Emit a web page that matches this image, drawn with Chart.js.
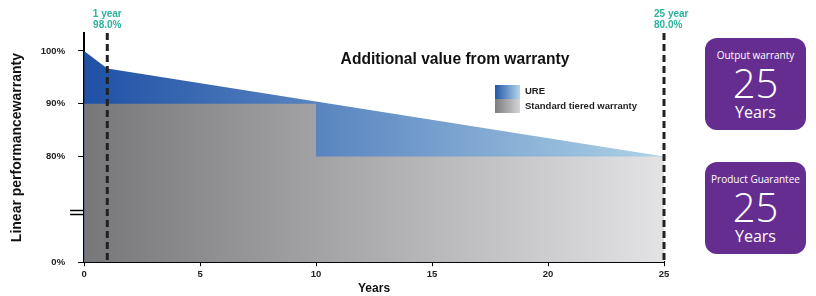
<!DOCTYPE html>
<html lang="en">
<head>
<meta charset="UTF-8">
<title>Warranty</title>
<script src="https://cdn.jsdelivr.net/npm/chart.js@4.4.1/dist/chart.umd.min.js"></script>
<style>
  body { margin:0; background:#fff; }
  #wrap { position:relative; width:816px; height:296px; }
  .box {
    position:absolute; left:705px; width:101px; height:92px;
    background:#662d91; border-radius:12px; color:#fff; text-align:center;
    font-family:"Open Sans", sans-serif;
  }
  .box .t { font-size:10px; margin-top:11px; line-height:12px; }
  .box .n { font-size:40px; line-height:40px; font-weight:300; margin-top:2px; }
  .box .y { font-size:16px; line-height:18px; }
</style>
</head>
<body>
<div id="wrap">
  <canvas id="grafico"></canvas>
  <div class="box" style="top:38px"><div class="t">Output warranty</div><div class="n">25</div><div class="y">Years</div></div>
  <div class="box" style="top:162px"><div class="t">Product Guarantee</div><div class="n">25</div><div class="y">Years</div></div>
</div>

<script>
  // valores (anos, % garantia)
  const ureYears = [0, 1, 25];
  const ureValues = [100, 96.7, 80];
  const stdYears = [0, 10, 10, 25];
  const stdValues = [90, 90, 80, 80];
  const yTicks = [60, 80, 90, 100];   // 60 = posição do "0%" (eixo quebrado)
  const yLabels = ["0%", "80%", "90%", "100%"];
  const marcos = [
    { ano: 1, linha1: "1 year", linha2: "98.0%", align: "center" },
    { ano: 25, linha1: "25 year", linha2: "80.0%", align: "left" }
  ];

  function gradiente(ctx, area, c1, c2) {
    const g = ctx.createLinearGradient(area.left, 0, area.right, 0);
    g.addColorStop(0, c1);
    g.addColorStop(1, c2);
    return g;
  }

  const extras = {
    id: "extras",
    afterDatasetsDraw(chart) {
      const { ctx, chartArea: a, scales: { x, y } } = chart;
      ctx.save();
      // linhas tracejadas + rótulos
      ctx.strokeStyle = "#222";
      ctx.lineWidth = 3;
      ctx.setLineDash([7, 4]);
      marcos.forEach(m => {
        const px = x.getPixelForValue(m.ano);
        ctx.beginPath();
        ctx.moveTo(px, a.top);
        ctx.lineTo(px, a.bottom - 1);
        ctx.stroke();
        ctx.fillStyle = "#2bb39c";
        ctx.font = "bold 10px 'Liberation Sans', Arial";
        ctx.textAlign = m.align;
        ctx.textBaseline = "middle";
        const tx = m.align === "left" ? px - 10 : px;
        ctx.fillText(m.linha1, tx, 14);
        ctx.fillText(m.linha2, tx, 25);
      });
      ctx.setLineDash([]);

      // título
      ctx.fillStyle = "#111";
      ctx.font = "bold 15.6px 'Liberation Sans', Arial";
      ctx.textAlign = "center";
      ctx.fillText("Additional value from warranty", 455, 60);

      // legenda
      ctx.fillStyle = gradiente(ctx, { left: 495, right: 520 }, "#2255a8", "#b3d6ea");
      ctx.fillRect(495, 85, 25, 14);
      ctx.fillStyle = gradiente(ctx, { left: 495, right: 520 }, "#7c7c7e", "#d5d5d7");
      ctx.fillRect(495, 99, 25, 14);
      ctx.fillStyle = "#222";
      ctx.font = "bold 9.5px 'Liberation Sans', Arial";
      ctx.textAlign = "left";
      ctx.fillText("URE", 525, 91);
      ctx.fillText("Standard tiered warranty", 525, 106);

      // marca de quebra do eixo
      ctx.strokeStyle = "#000";
      ctx.lineWidth = 1.3;
      ctx.beginPath();
      ctx.moveTo(a.left - 14, 210.5); ctx.lineTo(a.left, 210.5);
      ctx.moveTo(a.left - 14, 214.5); ctx.lineTo(a.left, 214.5);
      ctx.stroke();
      ctx.restore();
    }
  };

  const ctx = document.getElementById("grafico").getContext("2d");
  new Chart(ctx, {
    type: "line",
    data: {
      datasets: [
        {
          label: "Standard tiered warranty",
          data: stdYears.map((v, i) => ({ x: v, y: stdValues[i] })),
          fill: "start",
          borderWidth: 0,
          pointRadius: 0,
          backgroundColor: c => c.chart.chartArea ? gradiente(c.chart.ctx, c.chart.chartArea, "#77777a", "#e3e3e5") : "#999",
          order: 1
        },
        {
          label: "URE",
          data: ureYears.map((v, i) => ({ x: v, y: ureValues[i] })),
          fill: "start",
          borderWidth: 0,
          pointRadius: 0,
          backgroundColor: c => c.chart.chartArea ? gradiente(c.chart.ctx, c.chart.chartArea, "#1f50a5", "#aed2e7") : "#36c",
          order: 2
        }
      ]
    },
    options: {
      responsive: true,
      maintainAspectRatio: false,
      animation: false,
      layout: { padding: { top: 33, right: 152, left: 9, bottom: 0 } },
      plugins: { legend: { display: false }, tooltip: { enabled: false } },
      scales: {
        x: {
          type: "linear",
          min: 0, max: 25,
          ticks: { stepSize: 5, color: "#222", font: { family: "'Liberation Sans', Arial", size: 9.5, weight: "bold" }, padding: 2 },
          grid: { drawOnChartArea: false, tickLength: 4, color: "#000" },
          border: { color: "#000", width: 2 },
          title: { display: true, text: "Years", color: "#111", font: { family: "'Liberation Sans', Arial", size: 12, weight: "bold" }, padding: { top: 0, bottom: 0 } }
        },
        y: {
          min: 60, max: 103.4,
          afterBuildTicks: s => { s.ticks = yTicks.map(v => ({ value: v })); },
          ticks: {
            callback: v => yLabels[yTicks.indexOf(v)],
            color: "#222", font: { family: "'Liberation Sans', Arial", size: 9.5, weight: "bold" }, padding: 13
          },
          grid: { drawOnChartArea: false, tickLength: 6, color: "#000" },
          border: { color: "#000", width: 2 },
          title: { display: true, text: "Linear performancewarranty", color: "#111", font: { family: "'Liberation Sans', Arial", size: 14, weight: "bold" }, padding: { top: 0, bottom: 2 } }
        }
      }
    },
    plugins: [extras]
  });
</script>
</body>
</html>
